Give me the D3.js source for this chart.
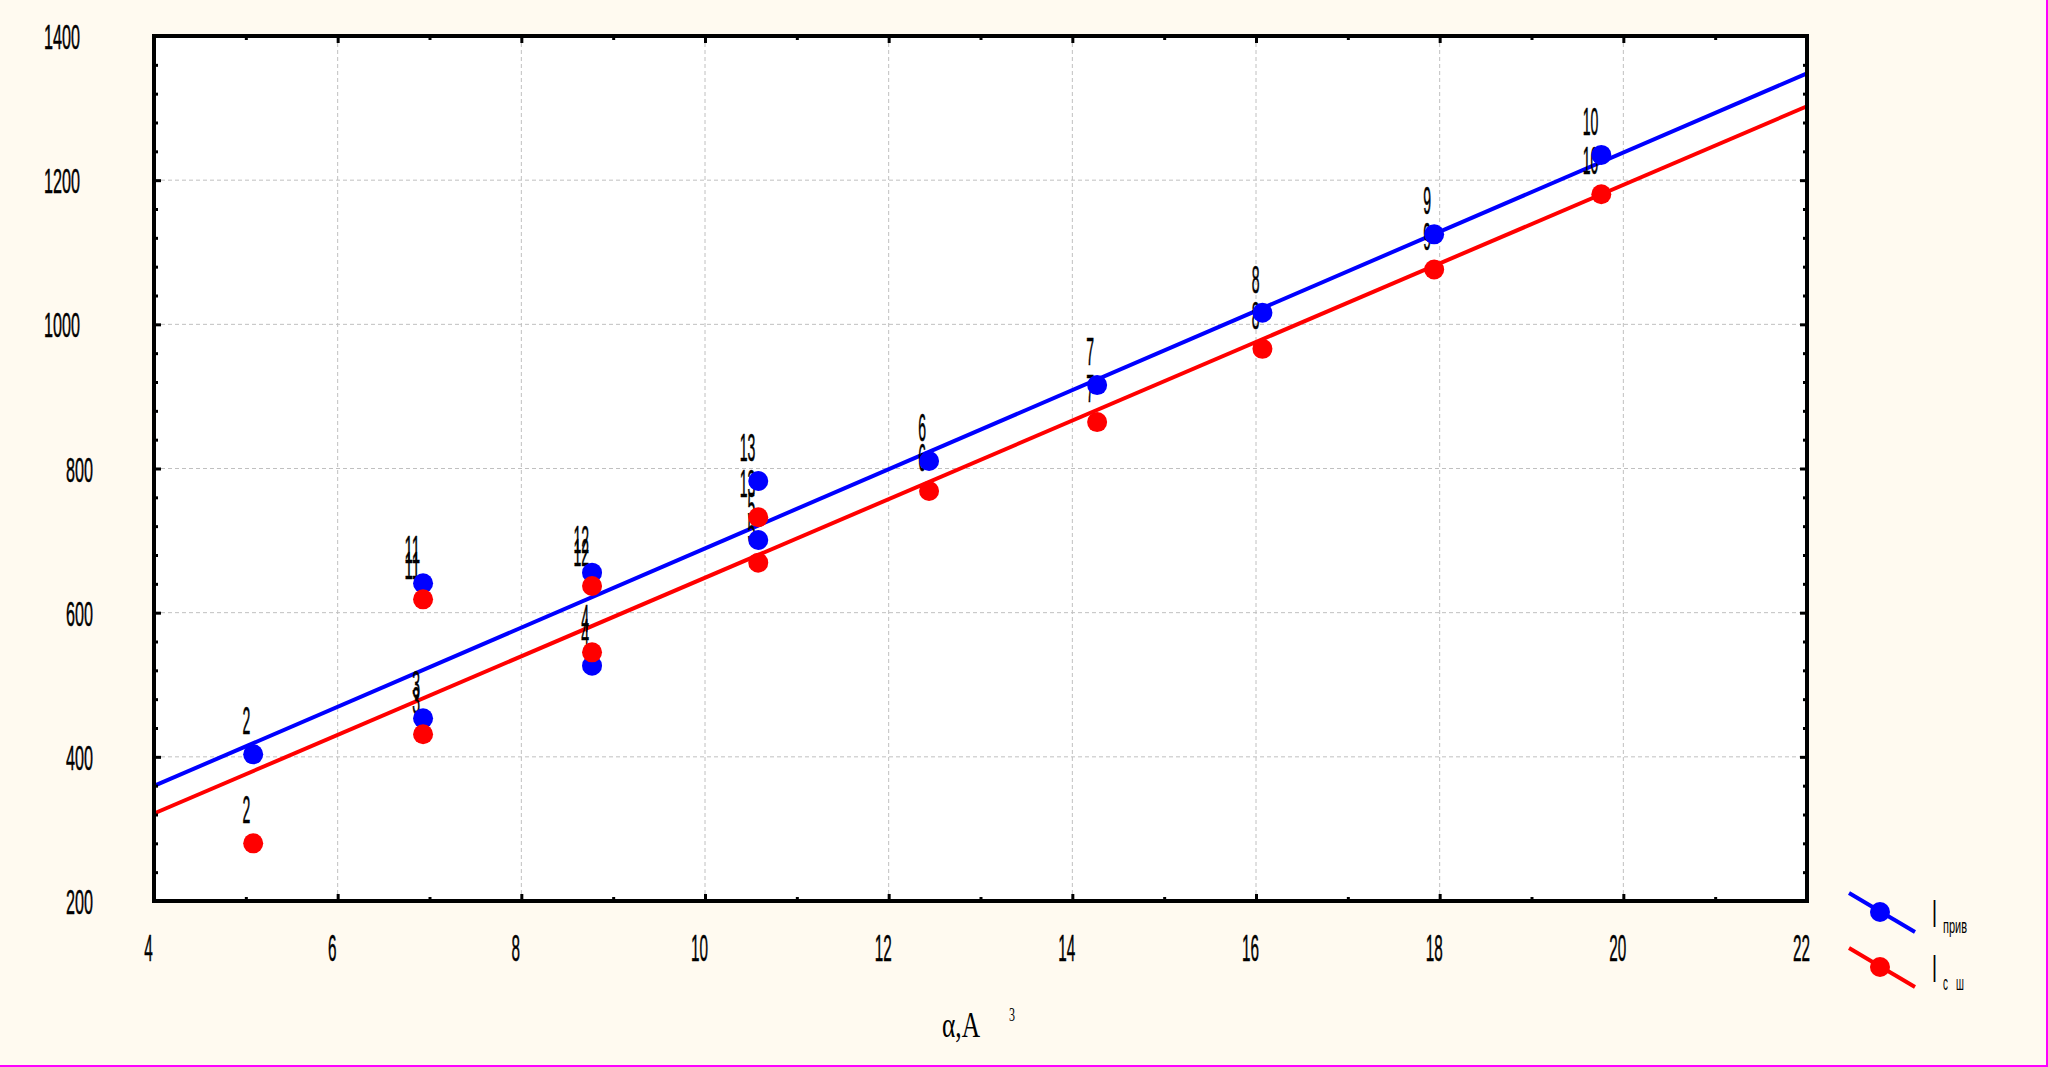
<!DOCTYPE html>
<html>
<head>
<meta charset="utf-8">
<script src="https://cdn.jsdelivr.net/npm/d3@7"></script>
<style>
  html, body { margin: 0; padding: 0; background: #FFFAF0; }
  svg { display: block; }
  text { white-space: pre; }
</style>
</head>
<body>
<svg id="chart" width="2048" height="1067"></svg>
<script>
// ---- data ----
const pointIds = [2, 3, 4, 5, 6, 7, 8, 9, 10, 11, 12, 13];
const alphaValues = [5.08, 6.93, 8.77, 10.58, 12.44, 14.27, 16.07, 17.94, 19.76, 6.93, 8.77, 10.58];
const iPriv = [403.5, 453.4, 526.5, 700.8, 810.4, 915.7, 1016, 1124.8, 1235, 640.8, 655.5, 782.7];
const iSsh  = [280, 431.3, 545, 669.4, 768.8, 864.4, 966, 1076, 1180.4, 618.5, 637, 732.3];
const xTicks = [4, 6, 8, 10, 12, 14, 16, 18, 20, 22];
const xMinorTicks = [5, 7, 9, 11, 13, 15, 17, 19, 21];
const yTicks = [200, 400, 600, 800, 1000, 1200, 1400];
const yMinorTicks = [240, 280, 320, 360, 440, 480, 520, 560, 640, 680, 720, 760, 840, 880, 920, 960, 1040, 1080, 1120, 1160, 1240, 1280, 1320, 1360];
const seriesNames = ["прив", "с   ш"];
const seriesColors = ["#0000FF", "#FF0000"];

// ---- layout ----
const L = 154, R = 1807, T = 36, B = 901;
const svg = d3.select("#chart");
const x = d3.scaleLinear().domain([4, 22]).range([L, R]);
const y = d3.scaleLinear().domain([200, 1400]).range([B, T]);
const FONT = "'Liberation Sans Narrow', 'Liberation Sans', Arial, sans-serif";

svg.append("rect").attr("width", 2048).attr("height", 1067).attr("fill", "#FFFAF0");
// magenta page border (right/bottom)
svg.append("line").attr("x1", 2047).attr("x2", 2047).attr("y1", 0).attr("y2", 1067).attr("stroke", "#FF00FF").attr("stroke-width", 2);
svg.append("line").attr("x1", 0).attr("x2", 2048).attr("y1", 1066).attr("y2", 1066).attr("stroke", "#FF00FF").attr("stroke-width", 2);

// plot background
svg.append("rect").attr("x", L).attr("y", T).attr("width", R - L).attr("height", B - T).attr("fill", "#FFFFFF");

// grid
const grid = svg.append("g").attr("stroke", "#C0C0C0").attr("stroke-width", 1).attr("stroke-dasharray", "4,3");
grid.selectAll(".gx").data(xTicks.slice(1, -1)).join("line")
  .attr("x1", d => x(d)).attr("x2", d => x(d)).attr("y1", T).attr("y2", B);
grid.selectAll(".gy").data(yTicks.slice(1, -1)).join("line")
  .attr("x1", L).attr("x2", R).attr("y1", d => y(d)).attr("y2", d => y(d));

// regression lines (least squares from data)
function fit(xs, ys) {
  const n = xs.length, mx = d3.mean(xs), my = d3.mean(ys);
  let sxy = 0, sxx = 0;
  for (let i = 0; i < n; i++) { sxy += (xs[i] - mx) * (ys[i] - my); sxx += (xs[i] - mx) ** 2; }
  const b = sxy / sxx; return { a: my - b * mx, b };
}
const series = [iPriv, iSsh];
const lineGen = d3.line().x(d => x(d[0])).y(d => y(d[1]));
series.forEach((ys, si) => {
  const f = fit(alphaValues, ys);
  const pts = [4, 22].map(v => [v, f.a + f.b * v]);
  svg.append("path").attr("d", lineGen(pts)).attr("fill", "none")
    .attr("stroke", seriesColors[si]).attr("stroke-width", 4);
});

// point labels
series.forEach((ys, si) => {
  svg.append("g").selectAll("text").data(pointIds).join("text")
    .attr("x", (d, i) => x(alphaValues[i]) - 3)
    .attr("y", (d, i) => y(ys[i]) - 20)
    .attr("text-anchor", "end")
    .attr("font-family", FONT).attr("font-size", 38).attr("fill", "#000")
    .attr("stroke", "#000").attr("stroke-width", 0.6)
    .attr("textLength", d => String(d).length * 7.8).attr("lengthAdjust", "spacingAndGlyphs")
    .text(d => d);
});

// markers
series.forEach((ys, si) => {
  svg.append("g").selectAll("circle").data(ys).join("circle")
    .attr("cx", (d, i) => x(alphaValues[i])).attr("cy", d => y(d)).attr("r", 10)
    .attr("fill", seriesColors[si]);
});

// axes (ticks inward)
function styleAxis(g) {
  g.select(".domain").remove();
  g.selectAll(".tick line").attr("stroke", "#000").attr("stroke-width", 3);
}
svg.append("g").attr("transform", `translate(0,${B})`)
  .call(d3.axisBottom(x).tickValues(xMinorTicks).tickSize(-4).tickFormat("")).call(styleAxis);
svg.append("g").attr("transform", `translate(0,${T})`)
  .call(d3.axisTop(x).tickValues(xMinorTicks).tickSize(-4).tickFormat("")).call(styleAxis);
svg.append("g").attr("transform", `translate(0,${T})`)
  .call(d3.axisTop(x).tickValues(xTicks).tickSize(-7).tickFormat("")).call(styleAxis);
svg.append("g").attr("transform", `translate(${L},0)`)
  .call(d3.axisLeft(y).tickValues(yMinorTicks).tickSize(-4).tickFormat("")).call(styleAxis);
svg.append("g").attr("transform", `translate(${R},0)`)
  .call(d3.axisRight(y).tickValues(yMinorTicks).tickSize(-4).tickFormat("")).call(styleAxis);
svg.append("g").attr("transform", `translate(${R},0)`)
  .call(d3.axisRight(y).tickValues(yTicks).tickSize(-7).tickFormat("")).call(styleAxis);

const xAxisG = svg.append("g").attr("transform", `translate(0,${B})`)
  .call(d3.axisBottom(x).tickValues(xTicks).tickSize(-7).tickFormat(d3.format("d"))).call(styleAxis);
xAxisG.selectAll(".tick text")
  .attr("x", -6).attr("y", 60).attr("dy", 0)
  .attr("font-family", FONT).attr("font-size", 37).attr("fill", "#000")
  .attr("stroke", "#000").attr("stroke-width", 0.5)
  .attr("textLength", d => String(d).length * 8.5).attr("lengthAdjust", "spacingAndGlyphs");

const yAxisG = svg.append("g").attr("transform", `translate(${L},0)`)
  .call(d3.axisLeft(y).tickValues(yTicks).tickSize(-7).tickFormat(d3.format("d"))).call(styleAxis);
yAxisG.selectAll(".tick text")
  .attr("x", d => String(d).length > 3 ? 80 - L : 93 - L)
  .attr("dy", "0.36em")
  .attr("text-anchor", "end")
  .attr("font-family", FONT).attr("font-size", 35).attr("fill", "#000")
  .attr("stroke", "#000").attr("stroke-width", 0.5)
  .attr("textLength", d => String(d).length * 9).attr("lengthAdjust", "spacingAndGlyphs");

// frame
svg.append("rect").attr("x", L).attr("y", T).attr("width", R - L).attr("height", B - T)
  .attr("fill", "none").attr("stroke", "#000").attr("stroke-width", 4);

// x axis title
svg.append("text").attr("x", 942).attr("y", 1037)
  .attr("font-family", "'Liberation Serif', 'Times New Roman', serif").attr("font-size", 36)
  .attr("textLength", 38).attr("lengthAdjust", "spacingAndGlyphs").attr("fill", "#000").text("α,A");
svg.append("text").attr("x", 1009).attr("y", 1021)
  .attr("font-family", "'Liberation Serif', 'Times New Roman', serif").attr("font-size", 19)
  .attr("textLength", 6).attr("lengthAdjust", "spacingAndGlyphs").attr("fill", "#000").text("3");

// legend
const legendTop = [893, 948];
seriesNames.forEach((name, i) => {
  const g = svg.append("g");
  const y0 = legendTop[i];
  g.append("line").attr("x1", 1849).attr("y1", y0).attr("x2", 1915).attr("y2", y0 + 39)
    .attr("stroke", seriesColors[i]).attr("stroke-width", 4);
  g.append("circle").attr("cx", 1880).attr("cy", y0 + 19).attr("r", 10).attr("fill", seriesColors[i]);
  g.append("text").attr("x", 1932).attr("y", y0 + 34)
    .attr("font-family", FONT).attr("font-size", 38).attr("fill", "#000")
    .attr("textLength", 5).attr("lengthAdjust", "spacingAndGlyphs").text("I");
  g.append("text").attr("x", 1943).attr("y", y0 + (i === 0 ? 40 : 42))
    .attr("font-family", FONT).attr("font-size", 20).attr("fill", "#000")
    .attr("textLength", i === 0 ? 24 : 21).attr("lengthAdjust", "spacingAndGlyphs").text(name);
});
</script>
</body>
</html>
